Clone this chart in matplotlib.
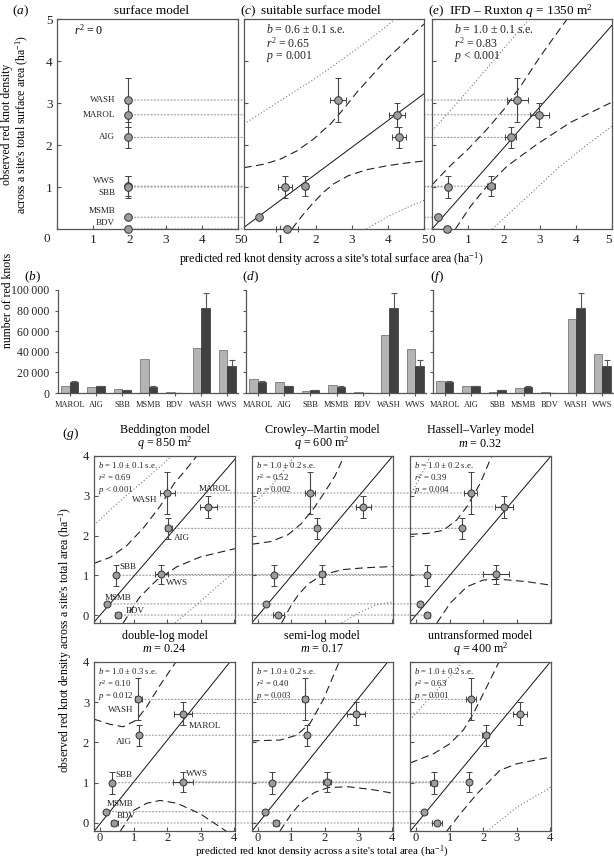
import matplotlib
matplotlib.use('Agg')
import matplotlib.pyplot as plt
from matplotlib.patches import ConnectionPatch

plt.rcParams['font.family'] = ['Liberation Serif', 'DejaVu Serif']
plt.rcParams['mathtext.fontset'] = 'custom'
plt.rcParams['mathtext.rm'] = 'Liberation Serif'
plt.rcParams['mathtext.it'] = 'Liberation Serif:italic'

# ---- observed data (site order used for every scatter panel)
sites = ['WASH', 'MAROL', 'AIG', 'WWS', 'SBB', 'MSMB', 'BDV']
obs = [3.07, 2.72, 2.18, 1.02, 1.00, 0.28, 0.0]
obs_se = [0.52, 0.28, 0.26, 0.24, 0.27, 0.03, 0.01]

# ---- top row predictions
a_x = [1.95, 1.95, 1.95, 1.95, 1.95, 1.95, 1.95]
c_x = [2.61, 4.26, 4.30, 1.70, 1.14, 0.43, 1.19]
c_xerr = [0.21, 0.22, 0.20, 0.07, 0.19, 0.05, 0.30]
e_x = [2.37, 2.98, 2.19, 1.64, 0.44, 0.17, 0.42]
e_xerr = [0.30, 0.26, 0.15, 0.12, 0.06, 0.06, 0.08]

# regression line, 95% band, prediction band
c_fit = [(0, 0.04), (5, 3.22)]
c_up = [(0, 1.46), (0.54, 1.54), (1.0, 1.66), (1.47, 1.86), (1.93, 2.14), (2.4, 2.5),
        (2.77, 2.86), (3.14, 3.26), (3.98, 4.06), (5.0, 4.88)]
c_lo = [(1.33, 0.0), (1.6, 0.3), (1.9, 0.6), (2.2, 0.87), (2.5, 1.08), (2.9, 1.27),
        (3.4, 1.41), (4.0, 1.51), (4.5, 1.57), (5.0, 1.62)]
c_pup = [(0, 2.5), (1, 3.05), (2, 3.6), (3, 4.2), (4, 4.85), (4.25, 5.05)]
c_plo = [(3.4, 0), (4, 0.3), (4.5, 0.5), (5, 0.68)]

e_fit = [(0, 0.0), (5, 4.85)]
e_up = [(0, 1.05), (0.5, 1.5), (1, 1.9), (1.5, 2.35), (2, 2.85), (2.5, 3.45), (3, 4.1),
        (3.5, 4.7), (3.8, 5.05)]
e_lo = [(0.65, 0), (1.07, 0.54), (1.53, 1.02), (2.09, 1.5), (2.92, 2.02), (3.85, 2.54), (5.0, 3.02)]
e_pup = [(0, 2.34), (0.7, 3.0), (1.4, 3.7), (2.0, 4.3), (2.75, 5.05)]
e_plo = [(1.67, 0), (2.5, 0.65), (3.5, 1.45), (4.3, 2.0), (5, 2.45)]

# ---- bar panels
bar_sites = ['MAROL', 'AIG', 'SBB', 'MSMB', 'BDV', 'WASH', 'WWS']
bar_obs = [10500, 6700, 2900, 6200, 300, 83000, 26000]
bar_obs_err = [1000, 500, 400, 800, 0, 14000, 6000]
b_pred = [6500, 5500, 4300, 33000, 1300, 44000, 42000]
d_pred = [13900, 10700, 2300, 7400, 1000, 56000, 42700]
f_pred = [11700, 6800, 1000, 4900, 600, 72000, 37500]
bar_ticks = [0, 20000, 40000, 60000, 80000, 100000]
bar_ticklabels = ['0', '20\u2009000', '40\u2009000', '60\u2009000', '80\u2009000', '100\u2009000']

# ---- panel (g) predictions
bed_x = [2.0, 3.23, 2.03, 1.83, 0.48, 0.22, 0.53]
bed_xerr = [0.22, 0.25, 0.10, 0.20, 0.05, 0.03, 0.08]
cm_x = [1.56, 3.15, 1.76, 1.91, 0.47, 0.25, 0.61]
cm_xerr = [0.16, 0.22, 0.05, 0.10, 0.04, 0.03, 0.17]
hv_x = [1.63, 2.63, 1.37, 2.38, 0.34, 0.13, 0.34]
hv_xerr = [0.20, 0.27, 0.04, 0.40, 0.04, 0.03, 0.07]
dl_x = [1.14, 2.48, 1.16, 2.46, 0.35, 0.17, 0.42]
dl_xerr = [0.10, 0.27, 0.03, 0.30, 0.04, 0.03, 0.10]
sl_x = [1.41, 2.93, 1.46, 2.05, 0.42, 0.22, 0.54]
sl_xerr = [0.10, 0.27, 0.04, 0.12, 0.03, 0.03, 0.10]
un_x = [1.63, 3.10, 2.07, 1.58, 0.52, 0.24, 0.63]
un_xerr = [0.15, 0.20, 0.10, 0.06, 0.10, 0.04, 0.15]

bed_fit = [(-0.2, -0.2), (4.05, 3.95)]
bed_up = [(-0.18, 1.3), (0.3, 1.45), (0.8, 1.75), (1.3, 2.2), (1.8, 2.75), (2.2, 3.3),
          (2.6, 3.7), (2.93, 4.05)]
bed_lo = [(0.69, -0.2), (1.0, 0.22), (1.19, 0.46), (1.69, 0.88), (2.28, 1.21), (2.98, 1.46), (4.02, 1.67)]
bed_pup = [(-0.18, 2.26), (0.5, 2.8), (1.2, 3.3), (1.75, 3.7), (2.2, 4.05)]
bed_plo = [(2.23, -0.2), (2.8, 0.2), (3.4, 0.65), (4.02, 1.1)]

cm_fit = [(-0.2, -0.22), (4.05, 4.03)]
cm_up = [(-0.18, 1.78), (0.4, 1.85), (0.9, 2.02), (1.3, 2.3), (1.7, 2.72), (2.0, 3.1),
         (2.3, 3.5), (2.6, 4.05)]
cm_lo = [(0.71, -0.2), (1.0, 0.25), (1.2, 0.5), (1.5, 0.78), (1.9, 1.0), (2.5, 1.14),
         (3.2, 1.19), (4.02, 1.22)]
cm_pup = [(-0.18, 2.75), (0.3, 3.15), (0.7, 3.55), (1.15, 4.05)]
cm_plo = [(2.5, -0.2), (3.0, 0.05), (3.5, 0.25), (4.02, 0.33)]

hv_fit = [(-0.2, -0.2), (4.05, 4.03)]
hv_up = [(-0.18, 2.03), (0.32, 2.05), (0.81, 2.13), (1.21, 2.39), (1.51, 2.72), (1.91, 3.31), (2.28, 4.05)]
hv_lo = [(0.62, -0.2), (1.01, 0.29), (1.51, 0.71), (2.0, 0.88), (2.5, 0.9), (3.3, 0.84), (4.02, 0.75)]
hv_pup = [(-0.18, 3.0), (0.15, 3.5), (0.45, 4.05)]

dl_fit = [(-0.18, -0.21), (3.87, 4.0)]
dl_up = [(-0.18, 2.58), (0.3, 2.45), (0.69, 2.39), (1.09, 2.56), (1.39, 2.89), (1.79, 3.43), (2.3, 4.05)]
dl_lo = [(0.6, -0.21), (1.0, 0.31), (1.39, 0.49), (1.79, 0.56), (2.29, 0.49), (2.98, 0.23), (3.77, -0.21)]

sl_fit = [(-0.18, -0.21), (3.87, 4.0)]
sl_up = [(-0.18, 2.04), (0.66, 2.06), (1.16, 2.18), (1.56, 2.48), (1.95, 3.06), (2.45, 4.05)]
sl_lo = [(0.66, -0.2), (1.0, 0.22), (1.3, 0.52), (1.7, 0.76), (2.1, 0.88), (2.7, 0.9),
         (3.4, 0.83), (4.02, 0.74)]

un_fit = [(-0.18, -0.21), (4.0, 4.0)]
un_up = [(-0.18, 1.49), (0.52, 1.72), (1.01, 1.97), (1.41, 2.31), (1.71, 2.72), (2.11, 3.39), (2.5, 4.05)]
un_lo = [(0.91, -0.21), (1.31, 0.22), (1.81, 0.72), (2.5, 1.31), (3.0, 1.47), (4.02, 1.64)]
un_pup = [(-0.18, 2.56), (0.4, 3.1), (0.9, 3.55), (1.45, 4.05)]
un_plo = [(2.11, -0.21), (3.0, 0.39), (4.02, 0.89)]

W, H = 614, 860
fig = plt.figure(figsize=(W / 100, H / 100), dpi=100)


def fax(l, t, w, h):
    return fig.add_axes([l / W, 1 - (t + h) / H, w / W, h / H])


def ft(x, y, s, **kw):
    kw.setdefault('ha', 'center')
    kw.setdefault('va', 'center')
    fig.text(x / W, 1 - y / H, s, **kw)


def style(ax, size=9):
    for s in ax.spines.values():
        s.set_color('#555555')
        s.set_linewidth(0.9)
    ax.tick_params(direction='in', length=3, width=0.8, colors='#555555',
                   labelcolor='#222222', labelsize=size)
    ax.set_facecolor('none')


def curves(ax, fit, up, lo, pup=None, plo=None):
    ax.plot(*zip(*fit), color='#111111', lw=0.7)
    for c in (up, lo):
        ax.plot(*zip(*c), color='#222222', lw=0.8, ls=(0, (7, 4)))
    for c in (pup, plo):
        if c:
            ax.plot(*zip(*c), color='#777777', lw=0.8, ls=(0, (1, 2)))


def points(ax, x, xerr, ms=5.5):
    cont = ax.errorbar(x, obs, yerr=obs_se, xerr=xerr, fmt='o', ms=ms, mfc='#9c9c9c',
                       mec='#333333', mew=0.7, ecolor='#444444', elinewidth=0.8,
                       capsize=2.3, capthick=0.8, zorder=5)
    for art in cont.get_children():
        art.set_clip_on(False)


def stats(ax, lines, size, x=0.03, ys=(0.948, 0.874, 0.798)):
    for s, y in zip(lines, ys):
        ax.text(x, y, s, transform=ax.transAxes, fontsize=size, va='center', ha='left', color='#222222')


def connect(ax1, x1, ax2, x2):
    for i in range(len(obs)):
        con = ConnectionPatch(xyA=(x1[i], obs[i]), coordsA='data', axesA=ax1,
                              xyB=(x2[i], obs[i]), coordsB='data', axesB=ax2,
                              color='#999999', lw=0.8, ls=(0, (1, 2)),
                              shrinkA=0, shrinkB=0, zorder=-1)
        fig.add_artist(con)


# ================= top row =================
ax_a = fax(57.3, 19, 180.5, 210)
ax_c = fax(244, 19, 180, 210)
ax_e = fax(432, 19, 180, 210)
for ax in (ax_a, ax_c, ax_e):
    style(ax, 9.5)
    ax.set_xlim(0, 5)
    ax.set_ylim(0, 5)
    ax.set_xticks(range(6))
    ax.set_yticks([1, 2, 3, 4, 5])
ax_c.set_facecolor('white')
ax_a.set_xticklabels(['', '1', '2', '3', '4', '5'])
ax_a.text(-0.06, -0.048, '0', transform=ax_a.transAxes, ha='center', va='center', fontsize=9.5, color='#222222')
ax_c.set_yticklabels([])
ax_e.set_yticklabels([])
ax_e.get_xticklabels()[-1].set_horizontalalignment('right')

points(ax_a, a_x, None)
a_lab_y = [3.07, 2.72, 2.18, 1.14, 0.85, 0.42, 0.14]
for s, y in zip(sites, a_lab_y):
    ax_a.text(1.6, y, s, ha='right', va='center', fontsize=6.5, color='#222222')
ax_a.text(0.86, 4.74, '$r^2$ = 0', ha='center', va='center', fontsize=8.5)

curves(ax_c, c_fit, c_up, c_lo, c_pup, c_plo)
points(ax_c, c_x, c_xerr)
stats(ax_c, ['$b$ = 0.6 ± 0.1 s.e.', '$r^2$ = 0.65', '$p$ = 0.001'], 8.5, x=0.12, ys=(0.95, 0.886, 0.82))

curves(ax_e, e_fit, e_up, e_lo, e_pup, e_plo)
points(ax_e, e_x, e_xerr)
stats(ax_e, ['$b$ = 1.0 ± 0.1 s.e.', '$r^2$ = 0.83', '$p$ < 0.001'], 8.5, x=0.12, ys=(0.95, 0.886, 0.82))

connect(ax_a, a_x, ax_e, e_x)

ft(20, 11, '($a$)', fontsize=9.5)
ft(152, 11, 'surface model', fontsize=9.5)
ft(248, 11, '($c$)', fontsize=9.5)
ft(321, 11, 'suitable surface model', fontsize=9.5)
ft(436, 11, '($e$)', fontsize=9.5)
ft(521, 11, 'IFD – Ruxton $q$ = 1350 m$^2$', fontsize=9.5)
ft(7, 124, 'observed red knot density', rotation=90, fontsize=8.5)
ft(22, 124, "across a site's total surface area (ha$^{-1}$)", rotation=90, fontsize=8.5)
ft(331, 259, "predicted red knot density across a site's total surface area (ha$^{-1}$)", fontsize=8.5)

# ================= bar row =================
bw = 0.33
xs = list(range(len(bar_sites)))
for left, pred, lab in ((58, b_pred, 'b'), (246, d_pred, 'd'), (433, f_pred, 'f')):
    ax = fax(left, 290, 180, 103)
    style(ax, 8.5)
    ax.spines['top'].set_visible(False)
    ax.spines['right'].set_visible(False)
    ax.bar([x - bw / 2 for x in xs], pred, bw, color='#b4b4b4', edgecolor='#666666', lw=0.5)
    ax.bar([x + bw / 2 for x in xs], bar_obs, bw, color='#404040', edgecolor='#333333', lw=0.5,
           yerr=[[0] * len(bar_obs), bar_obs_err], error_kw=dict(ecolor='#555555', elinewidth=0.8,
                                                                  capsize=2, capthick=0.8))
    ax.set_xlim(-0.45, 6.4)
    ax.set_ylim(0, 100000)
    ax.set_yticks(bar_ticks)
    ax.set_xticks(xs)
    ax.set_xticklabels(bar_sites, fontsize=6)
    ax.tick_params(axis='both', direction='out', length=2.5)
    if lab == 'b':
        ax.set_yticklabels(bar_ticklabels)
    else:
        ax.set_yticklabels([])
    ft(left - 26 if lab == 'b' else left + 4, 277, '($%s$)' % lab, fontsize=9.5)
ft(8, 300, 'number of red knots', rotation=90, fontsize=8.5)

# ================= panel (g) =================
cols = [94, 251.7, 410]
rows = [(456, 167), (662, 169)]
g_specs = [
    (0, 0, bed_x, bed_xerr, bed_fit, bed_up, bed_lo, bed_pup, bed_plo, 'Beddington model', '$q$ = 850 m$^2$',
     ['$b$ = 1.0 ± 0.1 s.e.', '$r^2$ = 0.69', '$p$ < 0.001']),
    (0, 1, cm_x, cm_xerr, cm_fit, cm_up, cm_lo, cm_pup, cm_plo, 'Crowley–Martin model', '$q$ = 600 m$^2$',
     ['$b$ = 1.0 ± 0.2 s.e.', '$r^2$ = 0.52', '$p$ = 0.002']),
    (0, 2, hv_x, hv_xerr, hv_fit, hv_up, hv_lo, hv_pup, None, 'Hassell–Varley model', '$m$ = 0.32',
     ['$b$ = 1.0 ± 0.2 s.e.', '$r^2$ = 0.39', '$p$ = 0.004']),
    (1, 0, dl_x, dl_xerr, dl_fit, dl_up, dl_lo, None, None, 'double-log model', '$m$ = 0.24',
     ['$b$ = 1.0 ± 0.3 s.e.', '$r^2$ = 0.10', '$p$ = 0.012']),
    (1, 1, sl_x, sl_xerr, sl_fit, sl_up, sl_lo, None, None, 'semi-log model', '$m$ = 0.17',
     ['$b$ = 1.0 ± 0.2 s.e.', '$r^2$ = 0.40', '$p$ = 0.003']),
    (1, 2, un_x, un_xerr, un_fit, un_up, un_lo, un_pup, un_plo, 'untransformed model', '$q$ = 400 m$^2$',
     ['$b$ = 1.0 ± 0.2 s.e.', '$r^2$ = 0.63', '$p$ = 0.001']),
]
g_axes = {}
for r, cidx, px, pxe, fit, up, lo, pup, plo, t1, t2, st in g_specs:
    top, h = rows[r]
    left = cols[cidx]
    ax = fax(left, top, 141, h)
    style(ax, 9)
    ax.tick_params(axis='x', pad=0.5)
    ax.set_xlim(-0.18, 4.02)
    ax.set_ylim(-0.2, 4.0)
    ax.set_xticks(range(5))
    ax.set_yticks(range(5))
    if cidx > 0:
        ax.set_yticklabels([])
    if r == 0:
        ax.set_xticklabels([])
    curves(ax, fit, up, lo, pup, plo)
    points(ax, px, pxe, ms=5)
    stats(ax, st, 6.3)
    ft(left + 70.5, top - 26, t1, fontsize=8.7)
    ft(left + 70.5, top - 12.5, t2, fontsize=8.7)
    g_axes[(r, cidx)] = ax

connect(g_axes[(0, 0)], bed_x, g_axes[(0, 2)], hv_x)
connect(g_axes[(1, 0)], dl_x, g_axes[(1, 2)], un_x)

bed_lab = [(1.34, 2.89), (3.42, 3.18), (2.43, 1.95), (2.28, 0.8), (0.84, 1.21), (0.55, 0.42), (1.04, 0.11)]
dl_lab = [(0.62, 2.81), (3.12, 2.41), (0.71, 2.0), (2.9, 1.22), (0.71, 1.18), (0.6, 0.47), (0.77, 0.18)]
for s, (x, y) in zip(sites, bed_lab):
    g_axes[(0, 0)].text(x, y, s, ha='center', va='center', fontsize=6.5, color='#222222')
for s, (x, y) in zip(sites, dl_lab):
    g_axes[(1, 0)].text(x, y, s, ha='center', va='center', fontsize=6.5, color='#222222')

ft(70, 434, '($g$)', fontsize=9.5)
ft(65, 640, "observed red knot density across a site's total area (ha$^{-1}$)", rotation=90, fontsize=8.5)
ft(322, 859.5, "predicted red knot density across a site's total area (ha$^{-1}$)", fontsize=8, va='bottom')

fig.savefig('out.png', dpi=100)
